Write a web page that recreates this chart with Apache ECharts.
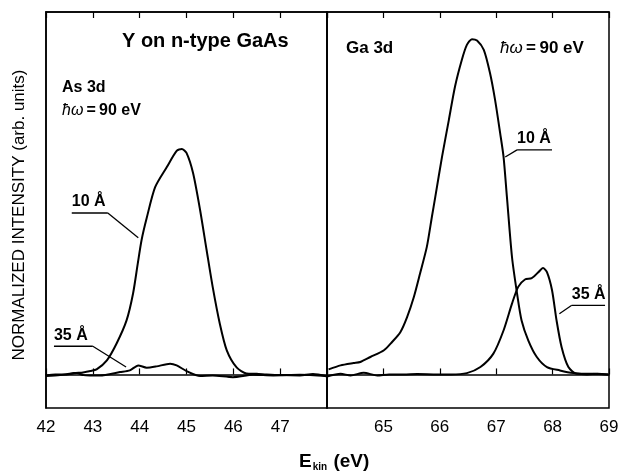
<!DOCTYPE html>
<html>
<head>
<meta charset="utf-8">
<script src="https://cdn.jsdelivr.net/npm/echarts@6/dist/echarts.min.js"></script>
<style>
  html, body { margin: 0; padding: 0; background: #fff; }
  #chart { width: 622px; height: 473px; }
</style>
</head>
<body>
<div id="chart"></div>
<script>
// As 3d panel (kinetic energy, eV)
var as10Energy = [42.0, 42.2, 42.44, 42.6, 42.79, 42.95, 43.08, 43.3, 43.51, 43.72, 43.86, 43.96, 44.04, 44.15, 44.33, 44.58, 44.79, 44.9, 45.0, 45.14, 45.29, 45.43, 45.56, 45.71, 45.86, 46.07, 46.28, 46.5, 46.71, 47.0, 47.42, 47.7, 48.0]
var as10Intensity = [-0.003, 0.0, 0.0, 0.004, 0.006, 0.01, 0.015, 0.042, 0.093, 0.161, 0.242, 0.331, 0.4, 0.466, 0.558, 0.618, 0.666, 0.672, 0.66, 0.6, 0.49, 0.37, 0.26, 0.152, 0.072, 0.021, 0.003, 0.002, 0.0, -0.002, -0.003, 0.001, -0.006]
var as35Energy = [42.0, 42.3, 42.5, 42.66, 42.8, 42.94, 43.15, 43.58, 43.79, 43.97, 44.15, 44.36, 44.65, 44.79, 45.0, 45.29, 45.56, 45.99, 46.42, 46.85, 47.42, 48.0]
var as35Intensity = [-0.005, -0.002, 0.002, 0.004, -0.002, -0.003, -0.003, 0.007, 0.012, 0.027, 0.02, 0.024, 0.032, 0.027, 0.01, -0.005, -0.003, -0.008, -0.001, -0.003, -0.001, -0.005]
// Ga 3d panel
var ga10Energy = [64.03, 64.24, 64.47, 64.59, 64.77, 65.01, 65.15, 65.3, 65.42, 65.54, 65.65, 65.77, 65.86, 65.92, 66.04, 66.16, 66.27, 66.39, 66.48, 66.57, 66.66, 66.78, 66.89, 66.98, 67.07, 67.13, 67.19, 67.28, 67.37, 67.45, 67.57, 67.72, 67.9, 68.13, 68.37, 68.61, 68.8, 68.99]
var ga10Intensity = [0.015, 0.027, 0.034, 0.037, 0.052, 0.072, 0.096, 0.126, 0.171, 0.231, 0.301, 0.38, 0.47, 0.529, 0.649, 0.758, 0.858, 0.937, 0.982, 0.999, 0.995, 0.967, 0.898, 0.818, 0.719, 0.649, 0.529, 0.35, 0.241, 0.161, 0.101, 0.052, 0.022, 0.012, 0.004, 0.0, 0.002, 0.0]
var ga35Energy = [64.0, 64.24, 64.42, 64.65, 64.89, 65.1, 65.36, 65.6, 65.95, 66.2, 66.48, 66.72, 66.95, 67.13, 67.28, 67.39, 67.51, 67.63, 67.75, 67.83, 67.9, 67.99, 68.07, 68.16, 68.28, 68.43, 68.72, 68.99]
var ga35Intensity = [-0.006, 0.002, -0.003, 0.005, -0.003, 0.0, 0.0, 0.001, 0.0, 0.0, 0.004, 0.022, 0.062, 0.131, 0.211, 0.261, 0.283, 0.287, 0.305, 0.317, 0.305, 0.251, 0.161, 0.081, 0.022, 0.002, 0.002, 0.0]
var leftTicks = ['42', '43', '44', '45', '46', '47']
var rightTicks = ['65', '66', '67', '68', '69']

// labels with underline + leader line, in data coords: [text, grid, underline x0, x1, y, leader end x, y, leader from right end?]
var tags = [
  ['10 Å', 0, 42.55, 43.32, 0.481, 43.97, 0.407, true],
  ['35 Å', 0, 42.17, 43.0, 0.084, 43.71, 0.022, true],
  ['10 Å', 1, 67.37, 67.99, 0.669, 67.16, 0.648, false],
  ['35 Å', 1, 68.34, 68.93, 0.206, 68.12, 0.181, false]
]

function pairs(xs, ys) {
  return xs.map(function (x, i) { return [x, ys[i]] })
}

var font = 'Liberation Sans, Arial, Helvetica, sans-serif'
var chart = echarts.init(document.getElementById('chart'))

function bottomAxis(idx, min, max, labels) {
  return {
    type: 'value', gridIndex: idx, position: 'bottom', min: min, max: max, interval: 1,
    axisLine: { show: true, lineStyle: { color: '#000', width: 1.5 } },
    axisTick: { show: true, inside: true, length: 6, lineStyle: { color: '#000', width: 1.2 } },
    axisLabel: {
      margin: 11, color: '#000', fontSize: 17, fontFamily: font,
      formatter: function (v) { return labels.indexOf(String(v)) >= 0 ? String(v) : '' }
    },
    splitLine: { show: false }
  }
}
function topAxis(idx, min, max) {
  return {
    type: 'value', gridIndex: idx, position: 'top', min: min, max: max, interval: 1,
    axisLine: { show: true, lineStyle: { color: '#000', width: 1.5 } },
    axisTick: { show: true, inside: true, length: 6, lineStyle: { color: '#000', width: 1.2 } },
    axisLabel: { show: false },
    splitLine: { show: false }
  }
}
function yAx(idx) {
  return {
    type: 'value', gridIndex: idx, min: -0.1, max: 1.08,
    axisLine: { show: true, lineStyle: { color: '#000', width: 1.5 } },
    axisTick: { show: false }, axisLabel: { show: false }, splitLine: { show: false }
  }
}
function curve(idx, xs, ys) {
  return {
    type: 'line', xAxisIndex: idx, yAxisIndex: idx, data: pairs(xs, ys),
    showSymbol: false, smooth: 0.25, silent: true,
    lineStyle: { color: '#000', width: 2 }
  }
}

chart.setOption({
  animation: false,
  backgroundColor: '#fff',
  grid: [
    { left: 46, right: 295, top: 12, bottom: 65, show: true, borderColor: '#000', borderWidth: 1.5 },
    { left: 327, right: 13, top: 12, bottom: 65, show: true, borderColor: '#000', borderWidth: 1.5 }
  ],
  xAxis: [
    bottomAxis(0, 42, 48, leftTicks),
    bottomAxis(1, 64, 69, rightTicks),
    topAxis(0, 42, 48),
    topAxis(1, 64, 69)
  ],
  yAxis: [yAx(0), yAx(1)],
  series: [
    curve(0, as10Energy, as10Intensity),
    curve(0, as35Energy, as35Intensity),
    curve(1, ga10Energy, ga10Intensity),
    curve(1, ga35Energy, ga35Intensity)
  ]
})

// annotations
var g = []
var bold = function (size) { return 'bold ' + size + 'px ' + font }
var hw = function (size) {
  return {
    text: '{i|ħω}{b|\u2009=\u200990 eV}',
    rich: { i: { font: 'italic ' + size + 'px ' + font, fill: '#000' }, b: { font: bold(size), fill: '#000' } }
  }
}
// y axis title
g.push({ type: 'text', x: 19, y: 215, rotation: Math.PI / 2, style: {
  text: 'NORMALIZED INTENSITY (arb. units)', font: '17px ' + font, fill: '#000',
  textAlign: 'center', textVerticalAlign: 'middle'
} })
g.push({ type: 'text', left: 122, top: 31, style: { text: 'Y on n-type GaAs', font: bold(20), fill: '#000' } })
g.push({ type: 'text', left: 62, top: 80, style: { text: 'As 3d', font: bold(16), fill: '#000' } })
g.push({ type: 'text', left: 62, top: 103, style: hw(16) })
g.push({ type: 'text', left: 346, top: 40, style: { text: 'Ga 3d', font: bold(17), fill: '#000' } })
g.push({ type: 'text', left: 500, top: 40, style: hw(17) })
// x axis title
g.push({ type: 'text', left: 299, top: 452, style: {
  text: '{e|E}{s|kin}{e| (eV)}',
  rich: {
    e: { font: bold(19), fill: '#000' },
    s: { font: bold(10), fill: '#000', padding: [11, 1, 0, 1] }
  }
} })

tags.forEach(function (t) {
  var p0 = chart.convertToPixel({ gridIndex: t[1] }, [t[2], t[4]])
  var p1 = chart.convertToPixel({ gridIndex: t[1] }, [t[3], t[4]])
  var pe = chart.convertToPixel({ gridIndex: t[1] }, [t[5], t[6]])
  var from = t[7] ? p1 : p0
  g.push({ type: 'line', shape: { x1: p0[0], y1: p0[1], x2: p1[0], y2: p1[1] }, style: { stroke: '#000', lineWidth: 1.3 } })
  g.push({ type: 'line', shape: { x1: from[0], y1: from[1], x2: pe[0], y2: pe[1] }, style: { stroke: '#000', lineWidth: 1.3 } })
  g.push({ type: 'text', x: p0[0], y: p0[1] - 3, style: {
    text: t[0], font: bold(16), fill: '#000', textAlign: 'left', textVerticalAlign: 'bottom'
  } })
})
chart.setOption({ graphic: g })
</script>
</body>
</html>
